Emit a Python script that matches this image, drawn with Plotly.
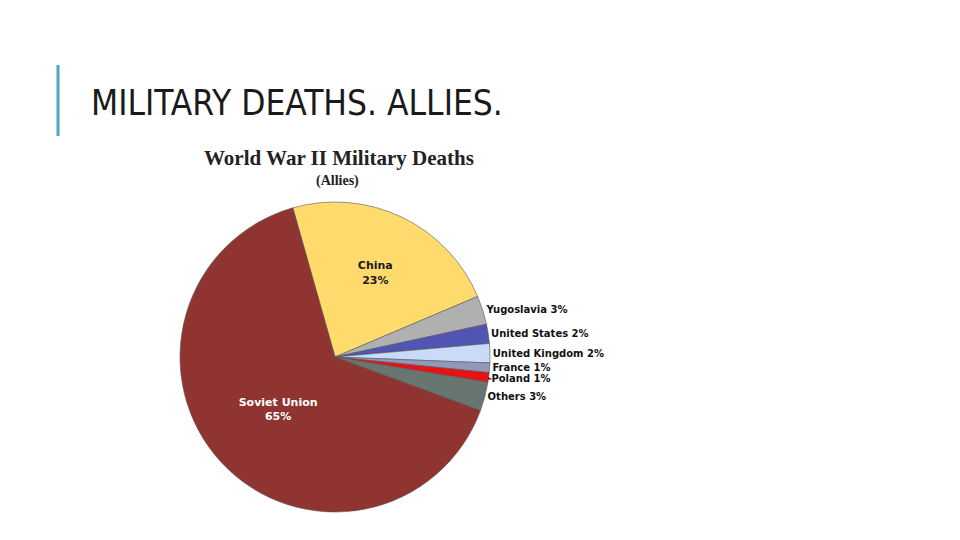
import plotly.graph_objects as go

labels = ["China", "Yugoslavia", "United States", "United Kingdom", "France", "Poland", "Others", "Soviet Union"]
values = [23, 3, 2, 2, 1, 1, 3, 65]
colors = ["#FFDB6E", "#B0B0B0", "#5254B4", "#C8DCF8", "#9098BC", "#E81212", "#687670", "#8F3430"]

inside = {"China", "Soviet Union"}
texts = []
positions = []
for lab, v in zip(labels, values):
    if lab in inside:
        texts.append(f"<b>{lab}<br>{v}%</b>")
        positions.append("inside")
    else:
        texts.append(f"<b>{lab} {v}%</b>")
        positions.append("outside")

W, H = 960, 540
OFF = 8  # page body margin offset
cx, cy, r = 335 - OFF, 357 - OFF, 155


def px(x):
    return (x - OFF) / W


def py(y):
    return 1 - (y - OFF) / H


fig = go.Figure(go.Pie(
    labels=labels,
    values=values,
    sort=False,
    direction="clockwise",
    rotation=-15.8,
    marker=dict(colors=colors, line=dict(color="#555555", width=0.6)),
    text=texts,
    textinfo="text",
    textposition=positions,
    insidetextorientation="horizontal",
    insidetextfont=dict(family="DejaVu Sans", size=11, color=["#1a1a1a", "#000", "#000", "#000", "#000", "#000", "#000", "#ffffff"]),
    outsidetextfont=dict(family="DejaVu Sans", size=10, color="#111111"),
    domain=dict(x=[(cx - r) / W, (cx + r) / W], y=[1 - (cy + r) / H, 1 - (cy - r) / H]),
    showlegend=False,
    hoverinfo="label+percent",
))

fig.update_layout(
    width=W, height=H,
    margin=dict(l=0, r=0, t=0, b=0),
    paper_bgcolor="white",
    plot_bgcolor="white",
    shapes=[dict(type="line", xref="paper", yref="paper",
                 x0=px(58), x1=px(58), y0=py(65), y1=py(136),
                 line=dict(color="#45A9BF", width=3))],
    annotations=[
        dict(text="MILITARY DEATHS. ALLIES.", xref="paper", yref="paper",
             x=px(89), y=py(103), xanchor="left", yanchor="middle", showarrow=False,
             font=dict(family="DejaVu Sans Condensed, DejaVu Sans, sans-serif", size=35, color="#1a1a1a")),
        dict(text="<b>World War II Military Deaths</b>", xref="paper", yref="paper",
             x=px(339), y=py(158), xanchor="center", yanchor="middle", showarrow=False,
             font=dict(family="Liberation Serif, serif", size=21, color="#222222")),
        dict(text="<b>(Allies)</b>", xref="paper", yref="paper",
             x=px(337), y=py(181), xanchor="center", yanchor="middle", showarrow=False,
             font=dict(family="Liberation Serif, serif", size=14, color="#222222")),
    ],
)

fig.write_html("out.html")
